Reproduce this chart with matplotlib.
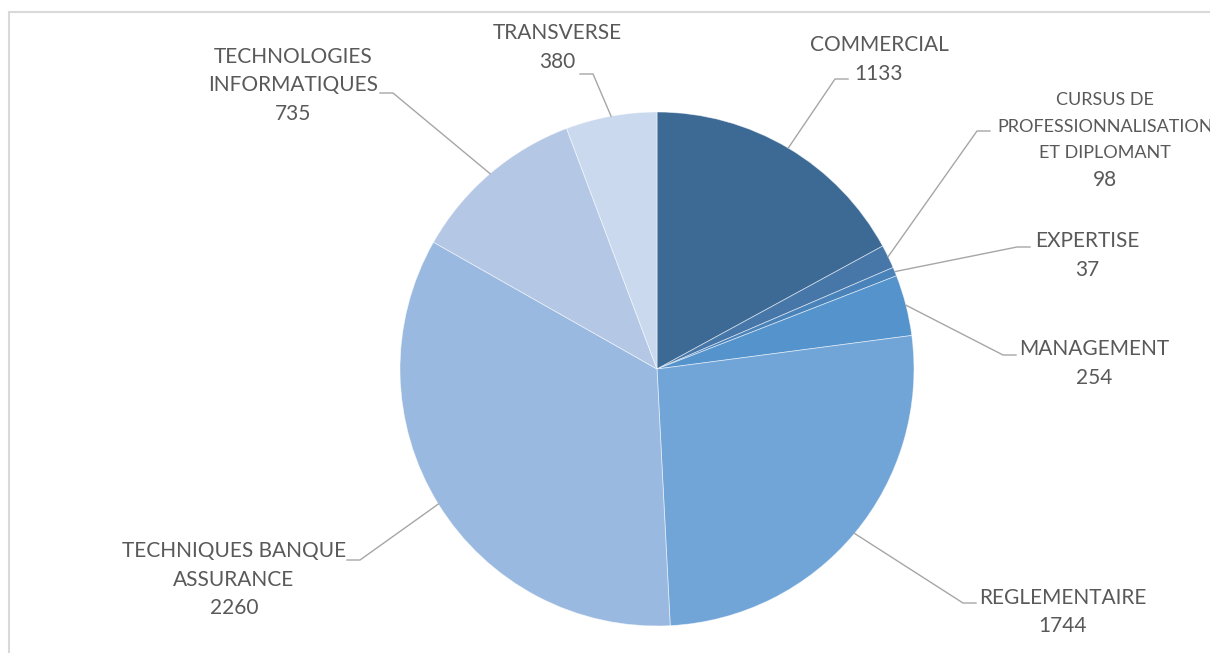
import numpy as np
import matplotlib.pyplot as plt
from matplotlib.patches import Rectangle

# data, clockwise from 12 o'clock
categories = ['COMMERCIAL', 'CURSUS DE\nPROFESSIONNALISATION\nET DIPLOMANT', 'EXPERTISE',
              'MANAGEMENT', 'REGLEMENTAIRE', 'TECHNIQUES BANQUE\nASSURANCE',
              'TECHNOLOGIES\nINFORMATIQUES', 'TRANSVERSE']
values = [1133, 98, 37, 254, 1744, 2260, 735, 380]
colors = ['#3D6A95', '#4677A8', '#4A82BA', '#5593CC', '#71A5D8', '#99B9E0', '#B4C8E6', '#CBD9EF']

W, H = 1210, 653
CX, CY, R = 657, 369, 257

# label layout: (text centre x, first line y, elbow x, elbow y, side)  -- pixel coords, y down
label_pos = [
    (879, 45, 835, 79, 'right'),
    (1105, 100, 977, 131, 'right'),
    (1087, 241, 1017, 247, 'right'),
    (1094, 349, 1003, 355, 'right'),
    (1063, 598, 963, 603, 'right'),
    (234, 551, 360, 560, 'left'),
    (293, 57, 393, 93, 'left'),
    (557, 33, 593, 74, 'left'),
]

TEXT_COL = '#595959'
LINE_COL = '#A6A6A6'
FONT = ['Lato', 'DejaVu Sans']


def Y(py):
    return H - py


fig = plt.figure(figsize=(W / 100, H / 100), dpi=100)
ax = fig.add_axes([0, 0, 1, 1])

# chart frame (only left and top visible)
ax.add_patch(Rectangle((9, -10), W + 20, Y(12) + 10, fill=False, edgecolor='#D9D9D9', linewidth=1.5))

wedges, _ = ax.pie(values, colors=colors, startangle=90, counterclock=False,
                   center=(CX, Y(CY)), radius=R, frame=True,
                   wedgeprops=dict(linewidth=0.6))
for w in wedges:
    w.set_edgecolor((1, 1, 1, 0.55))
ax.set_xlim(0, W)
ax.set_ylim(0, H)
ax.set_aspect('equal')
ax.axis('off')

for w, name, val, (tx, ty, ex, ey, side) in zip(wedges, categories, values, label_pos):
    # leader line from the middle of the wedge's arc to a short horizontal elbow
    ang = np.deg2rad((w.theta1 + w.theta2) / 2)
    px = CX + R * np.cos(ang)
    py = Y(CY) + R * np.sin(ang)
    if side == 'left':
        ax.plot([ex - 13, ex, px], [Y(ey), Y(ey), py], color=LINE_COL, lw=1)
    else:
        ax.plot([px, ex, ex + 13], [py, Y(ey), Y(ey)], color=LINE_COL, lw=1)

    lines = name.split('\n') + [str(val)]
    small = len(lines) > 3
    pitch = 26.7 if small else 28.5
    for i, ln in enumerate(lines):
        fs = 13 if (small and i < len(lines) - 1) else 15
        ax.text(tx, Y(ty + i * pitch), ln, ha='center', va='center', fontsize=fs,
                color=TEXT_COL, family=FONT)

fig.savefig('out.png', dpi=100)
